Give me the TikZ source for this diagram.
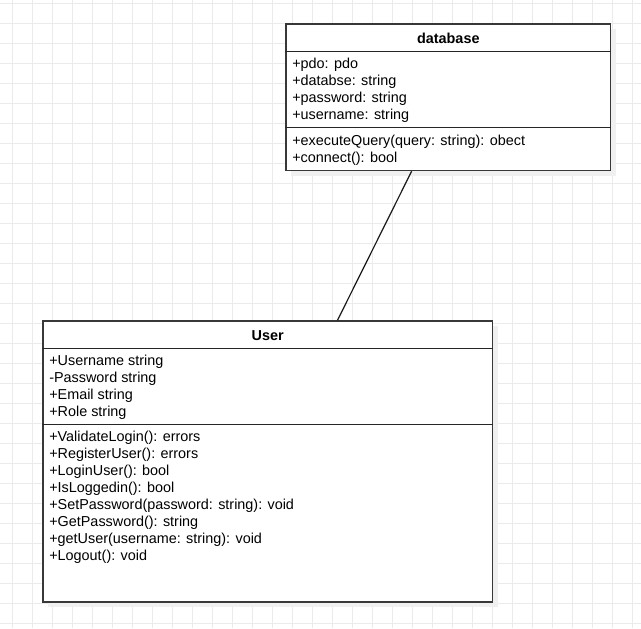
\documentclass[tikz,border=0pt]{standalone}
\usepackage{fontspec}
\setmainfont{Liberation Sans}
\usetikzlibrary{shadows}
\begin{document}
\begin{tikzpicture}[x=0.75pt,y=-0.75pt,
  gridline/.style={draw=black!8, line width=0.75pt},
  classbox/.style={draw=black!78, line width=0.95pt, fill=white, inner sep=0pt,
    drop shadow={shadow xshift=4pt, shadow yshift=-4pt, fill=black!6, opacity=1}},
  divider/.style={draw=black!85, line width=0.95pt},
  row/.style={anchor=base west, inner sep=0pt, font=\fontsize{10.8}{12.75}\selectfont},
  title/.style={anchor=base, inner sep=0pt, font=\fontsize{10.8}{12.75}\selectfont\bfseries},
  link/.style={draw=black!90, line width=0.9pt}]
\useasboundingbox (0,0) rectangle (641,628);
\fill[white] (0,0) rectangle (641,628);
% background grid, 20 px pitch
\foreach \k in {0,...,31} \draw[gridline] (12.3+20*\k,0) -- (12.3+20*\k,628);
\foreach \k in {0,...,31} \draw[gridline] (0,3.3+20*\k) -- (641,3.3+20*\k);

% class boxes
\node[classbox, minimum width=243.5pt, minimum height=109.9pt] (db) at (448.3,97.3) {};
\node[classbox, minimum width=337pt, minimum height=210.75pt] (user) at (267.7,461.5) {};

% compartment dividers
\foreach \b in {db,user} {
  \draw[divider] ([yshift=-21pt]\b.north west) -- ([yshift=-21pt]\b.north east);
  \draw[divider] ([yshift=-78.2pt]\b.north west) -- ([yshift=-78.2pt]\b.north east);
}

% association
\draw[link] ([xshift=-27.5pt]db.south) -- ([xshift=52.3pt]user.north);

% database class text
\node[title] (dbname) at (448.3,43) {database};
\foreach \t [count=\i from 0] in {{+pdo: pdo},{+databse: string},{+password: string},{+username: string}}
  \node[row] (dba\i) at (292,68.5+17*\i) {\t};
\foreach \t [count=\i from 0] in {{+executeQuery(query: string): obect},{+connect(): bool}}
  \node[row] (dbm\i) at (292,145+17*\i) {\t};

% User class text
\node[title] (username) at (267.7,340) {User};
\foreach \t [count=\i from 0] in {{+Username string},{-Password string},{+Email string},{+Role string}}
  \node[row] (ua\i) at (49,365.5+17*\i) {\t};
\foreach \t [count=\i from 0] in {{+ValidateLogin(): errors},{+RegisterUser(): errors},{+LoginUser(): bool},{+IsLoggedin(): bool},{+SetPassword(password: string): void},{+GetPassword(): string},{+getUser(username: string): void},{+Logout(): void}}
  \node[row] (um\i) at (49,441.7+17*\i) {\t};
\end{tikzpicture}
\end{document}
